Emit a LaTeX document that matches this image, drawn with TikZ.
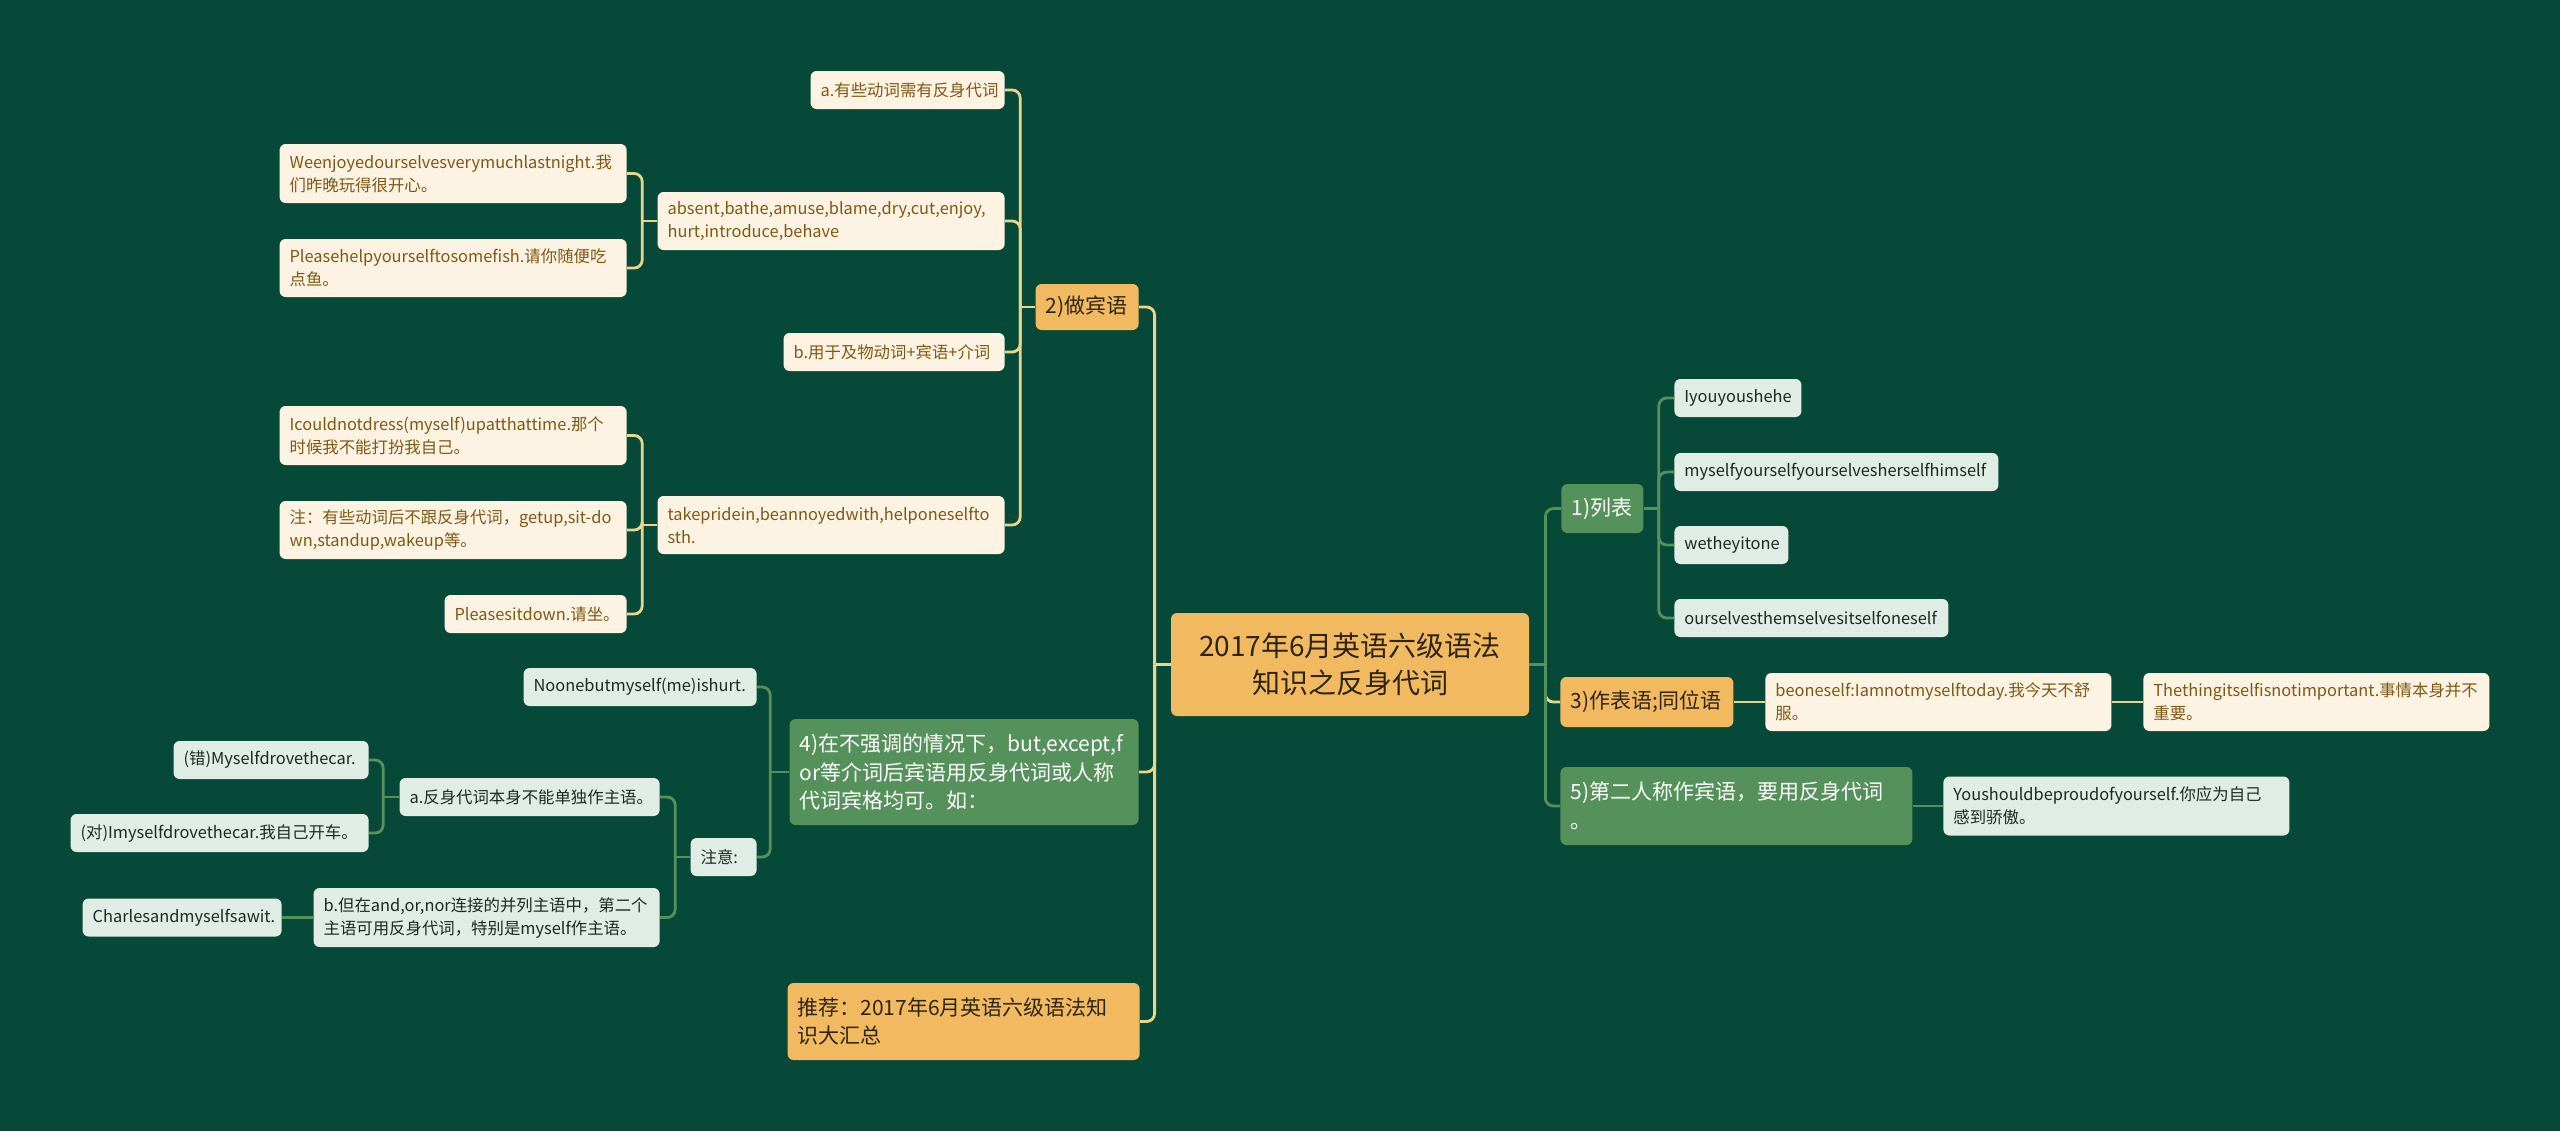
\documentclass[tikz,border=0pt]{standalone}
\usepackage{fontspec}
\setmainfont{Noto Sans CJK SC}
\usepackage{xcolor}
\definecolor{mmbg}{RGB}{7,73,57}
\definecolor{mmgold}{RGB}{241,186,96}
\definecolor{mmdark}{RGB}{46,36,20}
\definecolor{mmcream}{RGB}{253,243,227}
\definecolor{mmbrown}{RGB}{128,88,20}
\definecolor{mmgreen}{RGB}{85,145,90}
\definecolor{mmmint}{RGB}{224,237,228}
\definecolor{mmink}{RGB}{30,40,34}
\definecolor{mmline}{RGB}{233,214,140}
\usetikzlibrary{positioning}

\begin{document}
\begin{tikzpicture}[x=0.5pt, y=-0.5pt,
  every node/.style={inner xsep=5pt, inner ysep=2pt, rounded corners=3pt, align=left},
  sz/.style 2 args={text width=#1pt, minimum height=#2pt},
  rootbox/.style={fill=mmgold, text=mmdark, font=\fontsize{14}{18.5}\selectfont, align=center},
  goldbox/.style={fill=mmgold, text=mmdark, font=\fontsize{10.5}{14.3}\selectfont},
  greenbox/.style={fill=mmgreen, text=white, font=\fontsize{10.5}{14.3}\selectfont},
  creamleaf/.style={fill=mmcream, text=mmbrown, font=\fontsize{8.2}{11.5}\selectfont},
  mintleaf/.style={fill=mmmint, text=mmink, font=\fontsize{8.2}{11.5}\selectfont},
  goldline/.style={draw=mmline, line width=1.4pt, rounded corners=4pt},
  greenline/.style={draw=mmgreen, line width=1.4pt, rounded corners=4pt}]

\fill[mmbg] (0,0) rectangle (2560,1131);
\useasboundingbox (0,0) rectangle (2560,1131);

% root
\node[rootbox, sz={169}{51.5}] (root) at (1350,664.5) {2017年6月英语六级语法\\知识之反身代词};

% left branches
\node[goldbox, sz={41.5}{23}, anchor=east] (obj) at (1139,307) {2)做宾语};
\node[greenbox, sz={164.5}{53}, anchor=east] (prep) at (1139,772) {4)在不强调的情况下，but,except,f\\or等介词后宾语用反身代词或人称\\代词宾格均可。如：};
\node[goldbox, sz={166}{38.5}, anchor=east] (rec) at (1140,1021.5) {推荐：2017年6月英语六级语法知\\识大汇总};

% 2) children
\node[creamleaf, sz={87}{19}, anchor=east] (objA) at (1005,90) {a.有些动词需有反身代词};
\node[creamleaf, sz={163.5}{29}, anchor=east] (verbs) at (1005,221) {absent,bathe,amuse,blame,dry,cut,enjoy,\\hurt,introduce,behave};
\node[creamleaf, sz={100.5}{19}, anchor=east] (objB) at (1005,352) {b.用于及物动词+宾语+介词};
\node[creamleaf, sz={163.5}{29}, anchor=east] (phr) at (1005,525) {takepridein,beannoyedwith,helponeselfto\\sth.};

\node[creamleaf, sz={163.5}{29.5}, anchor=east] (enjoy) at (627,173.5) {Weenjoyedourselvesverymuchlastnight.我\\们昨晚玩得很开心。};
\node[creamleaf, sz={163.5}{29}, anchor=east] (help) at (627,268) {Pleasehelpyourselftosomefish.请你随便吃\\点鱼。};
\node[creamleaf, sz={163.5}{29.5}, anchor=east] (dress) at (627,435.5) {Icouldnotdress(myself)upatthattime.那个\\时候我不能打扮我自己。};
\node[creamleaf, sz={163.5}{29}, anchor=east] (note) at (627,530) {\mbox{注：有些动词后不跟反身代词，getup,sit-do}\\wn,standup,wakeup等。};
\node[creamleaf, sz={81}{19}, anchor=east] (sit) at (627,614) {Pleasesitdown.请坐。};

% 4) children
\node[mintleaf, sz={106.5}{19}, anchor=east] (hurt) at (757,687) {Noonebutmyself(me)ishurt.};
\node[mintleaf, sz={23}{19}, anchor=east] (attn) at (757,857) {注意:};
\node[mintleaf, sz={120}{19}, anchor=east] (subjA) at (660,797) {a.反身代词本身不能单独作主语。};
\node[mintleaf, sz={163}{29.5}, anchor=east] (subjB) at (660,917.5) {b.但在and,or,nor连接的并列主语中，第二个\\主语可用反身代词，特别是myself作主语。};
\node[mintleaf, sz={87.5}{19}, anchor=east] (wrong) at (369,760) {(错)Myselfdrovethecar.};
\node[mintleaf, sz={139}{19}, anchor=east] (right) at (369,833) {(对)Imyselfdrovethecar.我自己开车。};
\node[mintleaf, sz={89.5}{19}, anchor=east] (charles) at (282,917.5) {Charlesandmyselfsawit.};

% right branches
\node[greenbox, sz={31}{24.5}, anchor=west] (list) at (1561,508.5) {1)列表};
\node[goldbox, sz={76.5}{25}, anchor=west] (pred) at (1560,702) {3)作表语;同位语};
\node[greenbox, sz={166}{39}, anchor=west] (second) at (1560,806) {5)第二人称作宾语，要用反身代词\\。};

\node[mintleaf, sz={53.5}{19}, anchor=west] (p1) at (1674,398) {Iyouyoushehe};
\node[mintleaf, sz={152}{19}, anchor=west] (p2) at (1674,472) {myselfyourselfyourselvesherselfhimself};
\node[mintleaf, sz={47}{19}, anchor=west] (p3) at (1674,545) {wetheyitone};
\node[mintleaf, sz={127}{19}, anchor=west] (p4) at (1674,618) {ourselvesthemselvesitselfoneself};

\node[creamleaf, sz={163}{29}, anchor=west] (today) at (1765,702) {beoneself:Iamnotmyselftoday.我今天不舒\\服。};
\node[creamleaf, sz={163}{29}, anchor=west] (thing) at (2143,702) {Thethingitselfisnotimportant.事情本身并不\\重要。};
\node[mintleaf, sz={163}{29.5}, anchor=west] (proud) at (1943,806) {Youshouldbeproudofyourself.你应为自己\\感到骄傲。};

% connectors, left
\draw[goldline] (root.west) -- ++(-16,0) coordinate (lt);
\foreach \n in {obj,prep,rec} \draw[goldline] (lt) |- (\n.east);
\draw[goldline] (obj.west) -- ++(-15,0) coordinate (jobj);
\foreach \n in {objA,verbs,objB,phr} \draw[goldline] (jobj) |- (\n.east);
\draw[goldline] (verbs.west) -- ++(-15,0) coordinate (jverbs);
\foreach \n in {enjoy,help} \draw[goldline] (jverbs) |- (\n.east);
\draw[goldline] (phr.west) -- ++(-15,0) coordinate (jphr);
\foreach \n in {dress,note,sit} \draw[goldline] (jphr) |- (\n.east);

\draw[greenline] (prep.west) -- ++(-19,0) coordinate (jprep);
\foreach \n in {hurt,attn} \draw[greenline] (jprep) |- (\n.east);
\draw[greenline] (attn.west) -- ++(-15,0) coordinate (jattn);
\foreach \n in {subjA,subjB} \draw[greenline] (jattn) |- (\n.east);
\draw[greenline] (subjA.west) -- ++(-16,0) coordinate (jsubj);
\foreach \n in {wrong,right} \draw[greenline] (jsubj) |- (\n.east);
\draw[greenline] (subjB.west) -- (charles.east);

% connectors, right
\draw[greenline] (root.east) -- ++(16,0) coordinate (rt);
\draw[greenline] (rt) |- (list.west);
\draw[goldline] (rt) |- (pred.west);
\draw[greenline] (rt) |- (second.west);
\draw[greenline] (list.east) -- ++(15,0) coordinate (jlist);
\foreach \n in {p1,p2,p3,p4} \draw[greenline] (jlist) |- (\n.west);
\draw[goldline] (pred.east) -- (today.west);
\draw[goldline] (today.east) -- (thing.west);
\draw[greenline] (second.east) -- (proud.west);
\end{tikzpicture}
\end{document}
